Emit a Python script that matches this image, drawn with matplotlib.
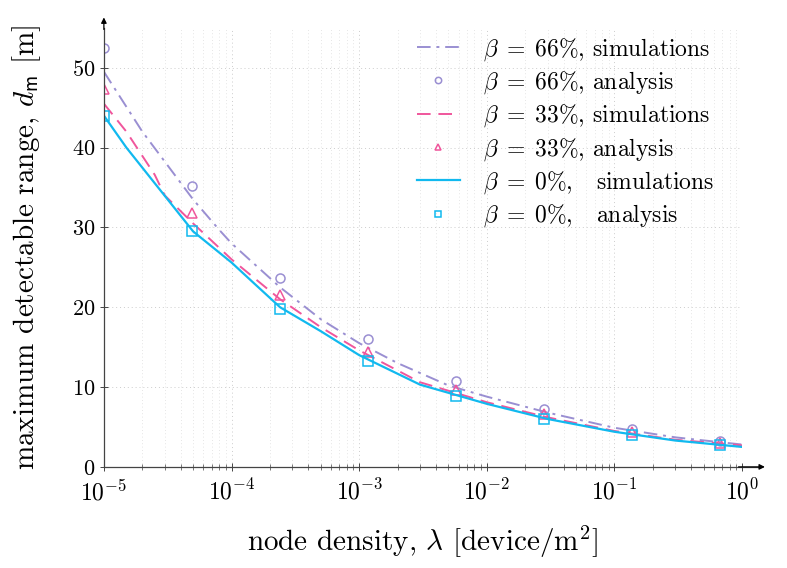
import matplotlib
matplotlib.use("Agg")
import matplotlib.pyplot as plt
import numpy as np

# ─── Data ────────────────────────────────────────────────────────────────────
lam_sim_66 = [1e-5, 2e-5, 5e-5, 8e-5, 1e-4, 2.4e-4, 5e-4, 1e-3, 2e-3, 5e-3, 1e-2, 3e-2, 1e-1, 3e-1, 1.0]
d_sim_66   = [49.5, 42.0, 33.5, 29.7, 28.0, 22.5, 18.5, 15.5, 13.0, 10.2, 8.8, 6.8, 4.9, 3.7, 2.8]

lam_sim_33 = [1e-5, 1.5e-5, 2.5e-5, 3e-5, 5e-5, 1e-4, 2.4e-4, 5e-4, 1e-3, 3e-3, 1e-2, 3e-2, 1e-1, 3e-1, 1.0]
d_sim_33   = [45.5, 42.0, 36.6, 34.0, 30.5, 26.0, 21.0, 17.5, 14.6, 10.6, 8.1, 6.2, 4.5, 3.4, 2.7]

lam_sim_0  = [1e-5, 1.5e-5, 5e-5, 1e-4, 1.5e-4, 2.4e-4, 5e-4, 1e-3, 3e-3, 1e-2, 3e-2, 1e-1, 3e-1, 1.0]
d_sim_0    = [44.0, 40.0, 29.5, 25.6, 23.0, 20.0, 17.0, 14.0, 10.3, 7.9, 6.0, 4.4, 3.3, 2.5]

lam_ana  = [1e-5, 4.9e-5, 2.4e-4, 1.17e-3, 5.7e-3, 2.8e-2, 0.137, 0.67]
d_ana_66 = [52.5, 35.2, 23.7, 16.0, 10.7, 7.2, 4.8, 3.3]
d_ana_33 = [47.4, 31.8, 21.5, 14.4, 9.6, 6.6, 4.4, 3.0]
d_ana_0  = [44.0, 29.5, 19.8, 13.3, 8.9, 6.0, 4.0, 2.7]

# ─── Style ───────────────────────────────────────────────────────────────────
PURPLE = "#9a8fd2"
PINK   = "#f0569c"
CYAN   = "#11b9ef"

plt.rcParams["font.family"] = "serif"
plt.rcParams["font.serif"] = ["cmr10", "DejaVu Serif"]
plt.rcParams["mathtext.fontset"] = "cm"
plt.rcParams["axes.formatter.use_mathtext"] = True

fig = plt.figure(figsize=(7.87, 5.68), dpi=100)
ax = fig.add_axes([0.132, 0.178, 0.811, 0.773])

ax.plot(lam_sim_66, d_sim_66, color=PURPLE, lw=1.4, dashes=(7, 3, 1.5, 3),
        label=r"$\beta\;=\;66\%$, simulations")
ax.plot(lam_ana, d_ana_66, ls="none", marker="o", ms=6.5, mfc="none", mec=PURPLE,
        mew=1.1, label=r"$\beta\;=\;66\%$, analysis")
ax.plot(lam_sim_33, d_sim_33, color=PINK, lw=1.4, dashes=(7, 4),
        label=r"$\beta\;=\;33\%$, simulations")
ax.plot(lam_ana, d_ana_33, ls="none", marker="^", ms=6.5, mfc="none", mec=PINK,
        mew=1.1, label=r"$\beta\;=\;33\%$, analysis")
ax.plot(lam_sim_0, d_sim_0, color=CYAN, lw=1.6,
        label=r"$\beta\;=\;0\%$,   simulations")
ax.plot(lam_ana, d_ana_0, ls="none", marker="s", ms=6.5, mfc="none", mec=CYAN,
        mew=1.1, label=r"$\beta\;=\;0\%$,   analysis")

ax.set_xscale("log")
ax.set_xlim(1e-5, 1)
ax.set_ylim(0, 55)
ax.set_yticks([0, 10, 20, 30, 40, 50])
ax.set_xticks([1e-5, 1e-4, 1e-3, 1e-2, 1e-1, 1])

ax.grid(True, which="major", ls=(0, (1, 3)), color="#cccccc", lw=0.7)
ax.grid(True, which="minor", axis="x", ls=(0, (1, 3)), color="#dddddd", lw=0.6)

for s in ["top", "right"]:
    ax.spines[s].set_visible(False)
for s in ["left", "bottom"]:
    ax.spines[s].set_color("#444444")
    ax.spines[s].set_linewidth(0.9)

ax.tick_params(axis="x", which="major", direction="inout", length=6, width=0.7,
               colors="#444444", labelcolor="black", labelsize=17, pad=6)
ax.tick_params(axis="x", which="minor", direction="inout", length=4, width=0.5,
               colors="#444444")
ax.tick_params(axis="y", which="major", direction="inout", length=6, width=0.7,
               colors="#444444", labelcolor="black", labelsize=16, pad=3)

# arrows on axes
ax.annotate("", xy=(1.04, 0), xytext=(0.99, 0), xycoords="axes fraction",
            arrowprops=dict(arrowstyle="-|>", color="black", lw=0.9, mutation_scale=8))
ax.annotate("", xy=(0, 1.03), xytext=(0, 0.99), xycoords="axes fraction",
            arrowprops=dict(arrowstyle="-|>", color="black", lw=0.9, mutation_scale=8))
ax.plot([1, 1.03], [0, 0], transform=ax.transAxes, color="#444444", lw=0.9, clip_on=False)

ax.set_xlabel(r"node density, $\lambda$ [device/m$^2$]", fontsize=21)
ax.set_ylabel(r"maximum detectable range, $d_\mathsf{m}$ [m]", fontsize=21)
ax.xaxis.set_label_coords(0.5, -0.13)
ax.yaxis.set_label_coords(-0.095, 0.5)

ax.legend(loc="upper right", frameon=False, fontsize=17, handlelength=1.8,
          handletextpad=1.0, labelspacing=0.28, markerscale=0.7,
          bbox_to_anchor=(0.99, 1.03))

fig.savefig("out.png", dpi=100, facecolor="white")
